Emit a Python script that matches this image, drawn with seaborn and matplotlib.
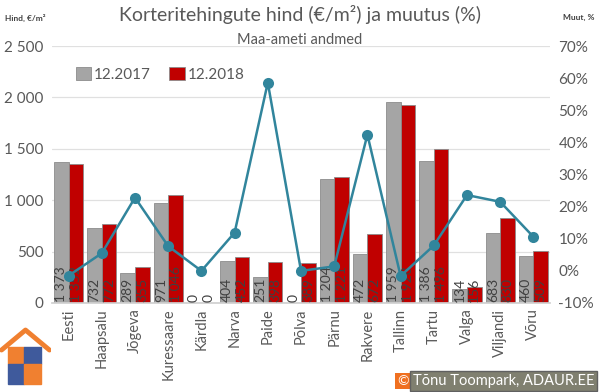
import matplotlib
matplotlib.use('Agg')
import matplotlib.pyplot as plt
import matplotlib.patches as mpatches
import seaborn as sns
import pandas as pd
import numpy as np

# andmed
cities = ['Eesti', 'Haapsalu', 'Jõgeva', 'Kuressaare', 'Kärdla', 'Narva', 'Paide', 'Põlva',
          'Pärnu', 'Rakvere', 'Tallinn', 'Tartu', 'Valga', 'Viljandi', 'Võru']
price_2017 = [1373, 732, 289, 971, 0, 404, 251, 0, 1204, 472, 1959, 1386, 134, 683, 460]
price_2018 = [1352, 772, 355, 1046, 0, 452, 398, 389, 1221, 672, 1928, 1496, 156, 830, 509]
change_pct = [-1.5, 5.5, 22.8, 7.7, 0.0, 11.9, 58.6, 0.0, 1.4, 42.4, -1.6, 7.9, 23.6, 21.5, 10.6]
series = ['12.2017', '12.2018']

sns.set_theme(style='white')
plt.rcParams['font.family'] = ['Lato', 'DejaVu Sans']
txt = '#595959'
bar_w = 0.88

df = pd.DataFrame({
    'linn': cities * 2,
    'hind': price_2017 + price_2018,
    'periood': [series[0]] * len(cities) + [series[1]] * len(cities),
})

fig = plt.figure(figsize=(6, 3.92), dpi=100)
ax = fig.add_axes([52 / 600, 1 - 303 / 392, 498 / 600, 257 / 392])

sns.barplot(data=df, x='linn', y='hind', hue='periood', order=cities,
            palette=['#A5A5A5', '#C00000'], saturation=1, width=bar_w, ax=ax,
            edgecolor='#8c8c8c', linewidth=0.6, errorbar=None)
ax.set_ylim(0, 2500)
ax.set_xlim(-0.5, len(cities) - 0.5)
ax.set_yticks(range(0, 2501, 500))
ax.set_yticklabels(['0', '500', '1 000', '1 500', '2 000', '2 500'], color=txt, fontsize=11)
ax.grid(axis='y', color='#E0E0E0', linewidth=0.9)
ax.set_axisbelow(True)
ax.set_xlabel('')
ax.set_ylabel('')
ax.tick_params(axis='x', rotation=90, labelsize=10.5, colors=txt, length=0, pad=4)
ax.tick_params(axis='y', length=0, pad=6)
for s in ['top', 'right', 'left']:
    ax.spines[s].set_visible(False)
ax.spines['bottom'].set_color('#D0D0D0')

# andmesildid tulpades
for k, vals in enumerate([price_2017, price_2018]):
    off = (k - 0.5) * bar_w / 2
    for i, v in enumerate(vals):
        lab = f'{int(round(v)):,}'.replace(',', ' ')
        ax.text(i + off, 12, lab, rotation=90, ha='center', va='bottom',
                fontsize=10, color='#404040')

ax.legend(loc='upper left', bbox_to_anchor=(0.02, 0.97), ncol=2, frameon=False,
          fontsize=11, handlelength=1.0, handleheight=0.9, handletextpad=0.2,
          columnspacing=1.2, labelcolor=txt)

ax2 = ax.twinx()
sns.lineplot(x=np.arange(len(cities)), y=change_pct, ax=ax2, color='#31859C',
             marker='o', markersize=8, linewidth=1.8, markeredgewidth=0)
ax2.set_ylim(-10, 70)
ax2.set_yticks(range(-10, 71, 10))
ax2.set_yticklabels([f'{t}%' for t in range(-10, 71, 10)], color=txt, fontsize=11)
ax2.tick_params(axis='y', length=0, pad=6)
for s in ax2.spines.values():
    s.set_visible(False)

fig.text(0.5, 0.962, 'Korteritehingute hind (€/m²) ja muutus (%)', ha='center', va='center',
         fontsize=14, color=txt)
fig.text(0.5, 0.897, 'Maa-ameti andmed', ha='center', va='center', fontsize=10.5, color=txt)
fig.text(0.008, 0.955, 'Hind, €/m²', ha='left', va='center', fontsize=6, color='#404040',
         fontweight='bold')
fig.text(0.965, 0.955, 'Muut, %', ha='center', va='center', fontsize=6, color='#404040',
         fontweight='bold')

# logo
lg = fig.add_axes([0.0, 0.0, 0.085, 0.17])
lg.set_xlim(0, 10)
lg.set_ylim(0, 10)
lg.axis('off')
lg.plot([0.3, 5, 9.7], [6.3, 9.3, 6.3], color='#F08030', linewidth=3.5, solid_capstyle='round')
lg.add_patch(mpatches.Rectangle((1.5, 4.2), 3.3, 2.6, color='#F08030'))
lg.add_patch(mpatches.Rectangle((4.8, 4.2), 3.3, 2.6, color='#3F5A9C'))
lg.add_patch(mpatches.Rectangle((1.5, 1.2), 3.3, 3.0, color='#3F5A9C'))
lg.add_patch(mpatches.Rectangle((4.8, 1.2), 3.3, 3.0, color='#F08030'))

# autoriõigus
fig.text(0.672, 0.028, '©', ha='center', va='center', fontsize=10, color='white',
         bbox=dict(boxstyle='square,pad=0.15', facecolor='#F07020', edgecolor='none'))
fig.text(0.688, 0.028, 'Tõnu Toompark, ADAUR.EE', ha='left', va='center', fontsize=10.5,
         color='white',
         bbox=dict(boxstyle='square,pad=0.2', facecolor='#808070', edgecolor='#606060'))

fig.savefig('out.png', dpi=100)
